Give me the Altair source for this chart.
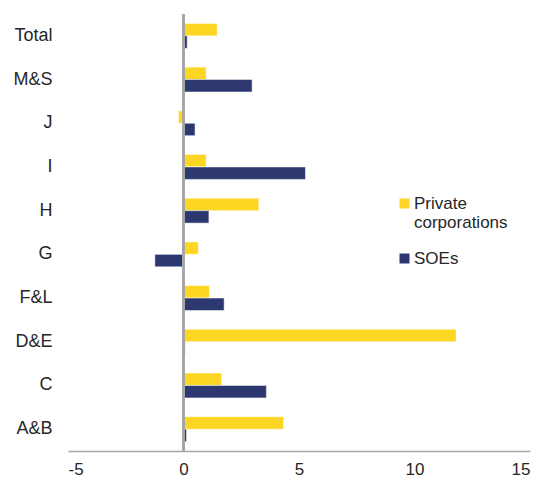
import altair as alt
import pandas as pd

categories = ["Total", "M&S", "J", "I", "H", "G", "F&L", "D&E", "C", "A&B"]
series = ["Private corporations", "SOEs"]
private_values = [1.46, 0.98, -0.22, 0.98, 3.26, 0.64, 1.12, 11.8, 1.65, 4.33]
soe_values = [0.16, 2.97, 0.50, 5.28, 1.10, -1.24, 1.76, 0.07, 3.59, 0.13]
x_ticks = [-5, 0, 5, 10, 15]

rows = []
for c, p, s in zip(categories, private_values, soe_values):
    rows.append({"sector": c, "series": series[0], "value": p})
    rows.append({"sector": c, "series": series[1], "value": s})
df = pd.DataFrame(rows)

FONT = "Liberation Sans"
GRAY = "#A6A6A6"
TEXT = "#262626"
YELLOW = "#FDD623"
NAVY = "#2D3870"

bars = alt.Chart(df).mark_bar(stroke="white", strokeWidth=0.5).encode(
    x=alt.X("value:Q",
            scale=alt.Scale(domain=[-5, 15], nice=False, zero=False),
            axis=alt.Axis(values=x_ticks, title=None, grid=False, ticks=False,
                          labelExpr="'' + datum.value",
                          domainColor=GRAY, domainWidth=1.5, labelPadding=10,
                          labelFontSize=17, labelColor=TEXT, labelFont=FONT)),
    y=alt.Y("sector:N", sort=categories,
            scale=alt.Scale(paddingInner=0.43, paddingOuter=0.215),
            axis=alt.Axis(title=None, domain=False, ticks=False, labelPadding=16,
                          labelFontSize=18, labelColor=TEXT, labelFont=FONT)),
    yOffset=alt.YOffset("series:N", sort=series, scale=alt.Scale(paddingInner=0)),
    color=alt.Color("series:N", sort=series,
                    scale=alt.Scale(domain=series, range=[YELLOW, NAVY]),
                    legend=alt.Legend(title=None, orient="none", legendX=328, legendY=181,
                                      symbolType="square", symbolSize=100, symbolStrokeWidth=0,
                                      labelFontSize=17, labelColor=TEXT, labelFont=FONT,
                                      labelExpr="datum.label == 'Private corporations' ? ['Private', 'corporations'] : datum.label",
                                      rowPadding=18, labelOffset=1)),
)

zero = alt.Chart(df).mark_rule(color=GRAY, strokeWidth=1.5).encode(x=alt.datum(0))

chart = alt.layer(bars, zero).properties(
    width=462, height=437,
    autosize=alt.AutoSizeParams(type="none"),
    padding={"left": 60, "top": 6, "right": 5, "bottom": 30},
).configure_view(stroke=None)

chart.save("out.html", embed_options={"renderer": "svg", "actions": False})
